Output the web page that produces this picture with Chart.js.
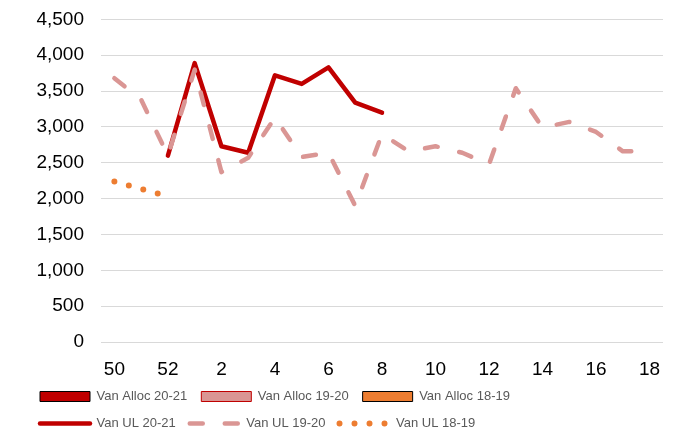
<!DOCTYPE html>
<html>
<head>
<meta charset="utf-8">
<script src="https://cdn.jsdelivr.net/npm/chart.js@4.4.1/dist/chart.umd.min.js"></script>
<style>
  html, body { margin: 0; padding: 0; background: #fff; }
  #wrap { width: 685px; height: 430px; }
</style>
</head>
<body>
<div id="wrap"><canvas id="chart"></canvas></div>
<script>
// week numbers, season runs from wk 50 to wk 18
const weeks = ['50', '51', '52', '1', '2', '3', '4', '5', '6', '7', '8',
               '9', '10', '11', '12', '13', '14', '15', '16', '17', '18'];

// allocations: nothing plotted, only shown in the legend
const vanAlloc2021 = [];
const vanAlloc1920 = [];
const vanAlloc1819 = [];

const vanUL2021 = [null, null, 2600, 3890, 2730, 2640, 3720, 3600, 3830, 3340, 3200,
                   null, null, null, null, null, null, null, null, null, null];
const vanUL1920 = [3680, 3380, 2600, 3800, 2370, 2570, 3130, 2580, 2640, 1900, 2900,
                   2660, 2730, 2640, 2480, 3540, 2990, 3070, 2930, 2660, 2660];
const vanUL1819 = [2240, 2135, 2030, null, null, null, null, null, null, null, null,
                   null, null, null, null, null, null, null, null, null, null];

const yMin = 0;
const yMax = 4500;
const yStep = 500;

const RED = '#C00000';
const PINK = '#DA9694';
const ORANGE = '#ED7D31';
const FONT = '"Liberation Sans", Arial, sans-serif';

function lineSet(label, data, color, extra) {
    return Object.assign({
        type: 'line',
        label,
        data,
        borderColor: color,
        backgroundColor: color,
        borderWidth: 4.5,
        borderCapStyle: 'round',
        borderJoinStyle: 'round',
        pointRadius: 0,
        pointHoverRadius: 0,
        tension: 0,
        fill: false
    }, extra || {});
}

const ctx = document.getElementById('chart').getContext('2d');

new Chart(ctx, {
    data: {
        labels: weeks,
        datasets: [
            { type: 'bar', label: 'Van Alloc 20-21', data: vanAlloc2021, backgroundColor: RED, borderColor: '#000', borderWidth: 1 },
            { type: 'bar', label: 'Van Alloc 19-20', data: vanAlloc1920, backgroundColor: PINK, borderColor: RED, borderWidth: 1 },
            { type: 'bar', label: 'Van Alloc 18-19', data: vanAlloc1819, backgroundColor: ORANGE, borderColor: '#000', borderWidth: 1 },
            lineSet('Van UL 20-21', vanUL2021, RED, { order: 1 }),
            lineSet('Van UL 19-20', vanUL1920, PINK, { borderDash: [13, 22] }),
            lineSet('Van UL 18-19', vanUL1819, ORANGE, { borderWidth: 6, borderDash: [0, 15] })
        ]
    },
    options: {
        responsive: true,
        maintainAspectRatio: false,
        animation: false,
        layout: { padding: { top: 0, left: 26, right: 22, bottom: -10 } },
        scales: {
            x: {
                offset: true,
                grid: { display: false },
                border: { display: false },
                afterFit: (scale) => { scale.height = 34; },
                ticks: {
                    autoSkip: false,
                    maxRotation: 0,
                    padding: 8,
                    color: '#000',
                    font: { family: FONT, size: 19 },
                    callback: (v, i) => (i % 2 === 0 ? weeks[i] : '')
                }
            },
            y: {
                min: yMin,
                max: yMax,
                // invisible tick marks keep the labels away from the plot
                grid: { color: '#d9d9d9', lineWidth: 1, drawTicks: true, tickLength: 9, tickColor: 'rgba(0,0,0,0)' },
                border: { display: false },
                afterFit: (scale) => { scale.width = 75; },
                ticks: {
                    stepSize: yStep,
                    padding: 8,
                    color: '#000',
                    font: { family: FONT, size: 19 },
                    callback: (v) => v.toLocaleString('en-US')
                }
            }
        },
        plugins: {
            tooltip: { enabled: false },
            legend: {
                position: 'bottom',
                align: 'start',
                labels: {
                    usePointStyle: true,
                    pointStyleWidth: 50,
                    boxWidth: 50,
                    boxHeight: 10,
                    padding: 14,
                    color: '#595959',
                    font: { family: FONT, size: 13 },
                    generateLabels(chart) {
                        return chart.data.datasets.map((ds, i) => ({
                            text: ds.label,
                            datasetIndex: i,
                            fillStyle: ds.backgroundColor,
                            strokeStyle: ds.borderColor,
                            lineWidth: ds.type === 'bar' ? 1 : ds.borderWidth,
                            lineDash: ds.borderDash || [],
                            lineCap: ds.type === 'bar' ? 'butt' : 'round',
                            pointStyle: ds.type === 'bar' ? 'rect' : 'line',
                            fontColor: '#595959',
                            hidden: !chart.isDatasetVisible(i)
                        }));
                    }
                }
            }
        }
    }
});
</script>
</body>
</html>
